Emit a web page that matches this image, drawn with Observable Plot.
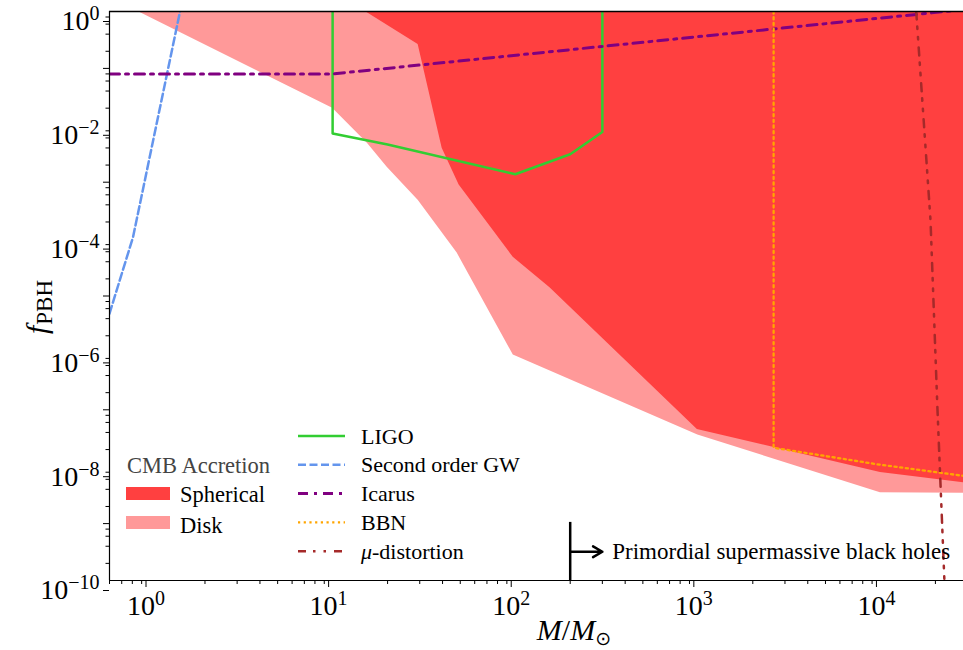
<!DOCTYPE html>
<html><head><meta charset="utf-8">
<script src="https://cdn.jsdelivr.net/npm/d3@7"></script>
<script src="https://cdn.jsdelivr.net/npm/@observablehq/plot@0.6"></script>
<style>
body{margin:0;background:#fff;}
#wrap{width:963px;height:650px;}
#wrap svg text{font-family:"Liberation Serif","Times New Roman","DejaVu Serif",serif;}
</style></head><body><div id="wrap"></div>
<script>
// ---- data ----
const xDomain = [0.6, 2.85e4];
const yDomain = [1e-10, 1];

// CMB accretion, disk (lower boundary of excluded region)
const diskMass = [0.86, 10, 15.5, 19.9, 29.4, 48.1, 97.6, 1000, 1e4, 2.85e4];
const diskF    = [1, 0.0199, 4.83e-3, 1.83e-3, 4.83e-4, 5.68e-5, 9.2e-7, 3.6e-8, 3.5e-9, 3.4e-9];
// CMB accretion, spherical
const sphMass = [15.1, 29.4, 39.8, 49.3, 97.5, 155, 994, 1e4, 2.85e4];
const sphF    = [1, 0.264, 3.95e-3, 8.9e-4, 4.8e-5, 1.4e-5, 4.5e-8, 7.9e-9, 5.2e-9];

const ligoMass = [10, 10, 20, 100, 200, 300, 300];
const ligoF    = [1, 7.15e-3, 4.6e-3, 1.38e-3, 3.1e-3, 7.6e-3, 1];
const gwMass = [0.6, 0.807, 1.46];
const gwF    = [4.9e-6, 1.08e-4, 1];
const icarusMass = [0.6, 10, 2.85e4];
const icarusF    = [0.08, 0.08, 1.08];
const bbnMass = [2600, 2600, 1e4, 2.85e4];
const bbnF    = [1, 2.15e-8, 1.08e-8, 6.9e-9];
const muMass = [15700, 18800, 20500, 22400];
const muF    = [1, 2.15e-4, 1.13e-7, 1e-10];

const seriesNames  = ["LIGO", "Second order GW", "Icarus", "BBN", "μ-distortion"];
const seriesColors = ["#32cd32", "#6495ed", "#800080", "#ffa500", "#a52a2a"];
const seriesDash   = ["none", "8,3.5", "10,6,3,6", "2.2,3.5", "8,7,2.5,8,2.5,8"];
const seriesWidth  = [2.5, 2.5, 3, 2.3, 2.5];
const seriesMass = [ligoMass, gwMass, icarusMass, bbnMass, muMass];
const seriesF    = [ligoF, gwF, icarusF, bbnF, muF];

const regionNames  = ["Spherical", "Disk"];
const regionColors = ["#ff4040", "#ff9999"];

const yMajorLabeled = [1e-10, 1e-8, 1e-6, 1e-4, 1e-2, 1];
const yMajorOdd = [1e-9, 1e-7, 1e-5, 1e-3, 1e-1];
const xMajor = [1, 10, 100, 1000, 1e4];

const psbhMass = 200, psbhArrowEnd = 300, psbhTextMass = 340, psbhF = 3.2e-10, psbhTop = 1.05e-9;
const psbhText = "Primordial supermassive black holes";

// ---- derived tables ----
const toRows = (ms, fs) => ms.map((M, i) => ({M, f: fs[i]}));
const disk = toRows(diskMass, diskF);
const sph = toRows(sphMass, sphF);
const yMinor = [], xMinor = [];
for (let e = -10; e < 0; e++) for (const s of [2,4,6,8]) yMinor.push(s * 10 ** e);
for (let e = -1; e <= 4; e++) for (const s of [2,3,4,5,6,7,8,9]) { const v = s * 10 ** e; if (v >= xDomain[0] && v <= xDomain[1]) xMinor.push(v); }

const FONT = '"Liberation Serif", "Times New Roman", "DejaVu Serif", serif';
const fmt = d => "10^" + Math.round(Math.log10(d));

const marks = [
  Plot.areaY(disk, {x: "M", y1: "f", y2: () => 1, fill: regionColors[1], clip: true}),
  Plot.areaY(sph, {x: "M", y1: "f", y2: () => 1, fill: regionColors[0], clip: true}),
];
seriesNames.forEach((name, i) => {
  marks.push(Plot.line(toRows(seriesMass[i], seriesF[i]), {
    x: "M", y: "f", stroke: seriesColors[i], strokeWidth: seriesWidth[i],
    strokeDasharray: seriesDash[i] === "none" ? null : seriesDash[i], clip: true
  }));
});
marks.push(
  Plot.ruleY([yDomain[1]], {stroke: "black", strokeWidth: 1.5}),
  Plot.ruleY([yDomain[0]], {stroke: "black", strokeWidth: 1.2}),
  Plot.ruleX([xDomain[0]], {stroke: "black", strokeWidth: 1.2}),
  Plot.axisY({ticks: yMajorLabeled, tickSize: 6, tickPadding: 4, tickFormat: fmt, label: null, dy: 10}),
  Plot.axisY({ticks: yMajorOdd, tickSize: 6, tickFormat: () => "", label: null}),
  Plot.axisY({ticks: yMinor, tickSize: 3.5, tickFormat: () => "", label: null}),
  Plot.axisX({ticks: xMajor, tickSize: 7, tickPadding: 8, tickFormat: fmt, label: null, dx: -4}),
  Plot.axisX({ticks: xMinor, tickSize: 4, tickFormat: () => "", label: null}),
  Plot.ruleX([psbhMass], {y1: yDomain[0], y2: psbhTop, stroke: "black", strokeWidth: 2.5}),
  Plot.arrow([{a: psbhMass, b: psbhArrowEnd, y: psbhF}], {x1: "a", x2: "b", y1: "y", y2: "y", stroke: "black", strokeWidth: 2.5, headLength: 9}),
  Plot.text([psbhText], {x: psbhTextMass, y: psbhF, text: d => d, textAnchor: "start", lineAnchor: "middle", fontSize: 23, fill: "black"})
);

const svg = Plot.plot({
  width: 963, height: 650,
  marginLeft: 109, marginRight: 0, marginTop: 11, marginBottom: 70,
  style: {fontFamily: FONT, background: "#fff", color: "black"},
  x: {type: "log", domain: xDomain},
  y: {type: "log", domain: yDomain},
  marks
});
document.getElementById("wrap").appendChild(svg);

// superscript tick labels
d3.select(svg).selectAll('g[aria-label$="tick label"] text').each(function () {
  const t = this.textContent;
  if (!t.includes("^")) return;
  const [b, e] = t.split("^");
  const sel = d3.select(this);
  sel.style("font-size", "28px");
  sel.text(null);
  sel.append("tspan").text(b);
  sel.append("tspan").attr("dy", "-0.5em").style("font-size", "20px").text(e.replace("-", "−"));
});

// axis labels and legends
const g = d3.select(svg).append("g").attr("fill", "black").attr("text-anchor", "start");
const yl = g.append("text").attr("transform", "translate(47,307) rotate(-90)").attr("text-anchor", "middle");
yl.append("tspan").attr("font-style", "italic").style("font-size", "30px").text("f");
yl.append("tspan").style("font-size", "23px").attr("dy", 5).attr("dx", 1).text("PBH");
const xl = g.append("text").attr("x", 574).attr("y", 640).attr("text-anchor", "middle").style("font-size", "30px");
xl.append("tspan").attr("font-style", "italic").text("M");
xl.append("tspan").text("/");
xl.append("tspan").attr("font-style", "italic").text("M");
xl.append("tspan").style("font-size", "19px").attr("dy", 5).style("font-family", "DejaVu Sans").text("⊙");

// legend 1 : CMB accretion
g.append("text").attr("x", 127).attr("y", 473).style("font-size", "22.5px").attr("fill", "#444").text("CMB Accretion");
regionNames.forEach((n, i) => {
  g.append("rect").attr("x", 126).attr("y", 487 + 29 * i).attr("width", 44).attr("height", 13).attr("fill", regionColors[i]);
  g.append("text").attr("x", 180).attr("y", 502 + 31 * i).style("font-size", "22.5px").text(n);
});
// legend 2 : constraints
seriesNames.forEach((n, i) => {
  const y = 436 + 28.8 * i;
  g.append("line").attr("x1", 298).attr("x2", 345).attr("y1", y).attr("y2", y)
    .attr("stroke", seriesColors[i]).attr("stroke-width", seriesWidth[i])
    .attr("stroke-dasharray", seriesDash[i] === "none" ? null : seriesDash[i]);
  const t = g.append("text").attr("x", 361).attr("y", y + 7.5).style("font-size", "22px");
  if (n.startsWith("μ")) {
    t.append("tspan").attr("font-style", "italic").text("μ");
    t.append("tspan").text(n.slice(1));
  } else t.text(n);
});
</script></body></html>
